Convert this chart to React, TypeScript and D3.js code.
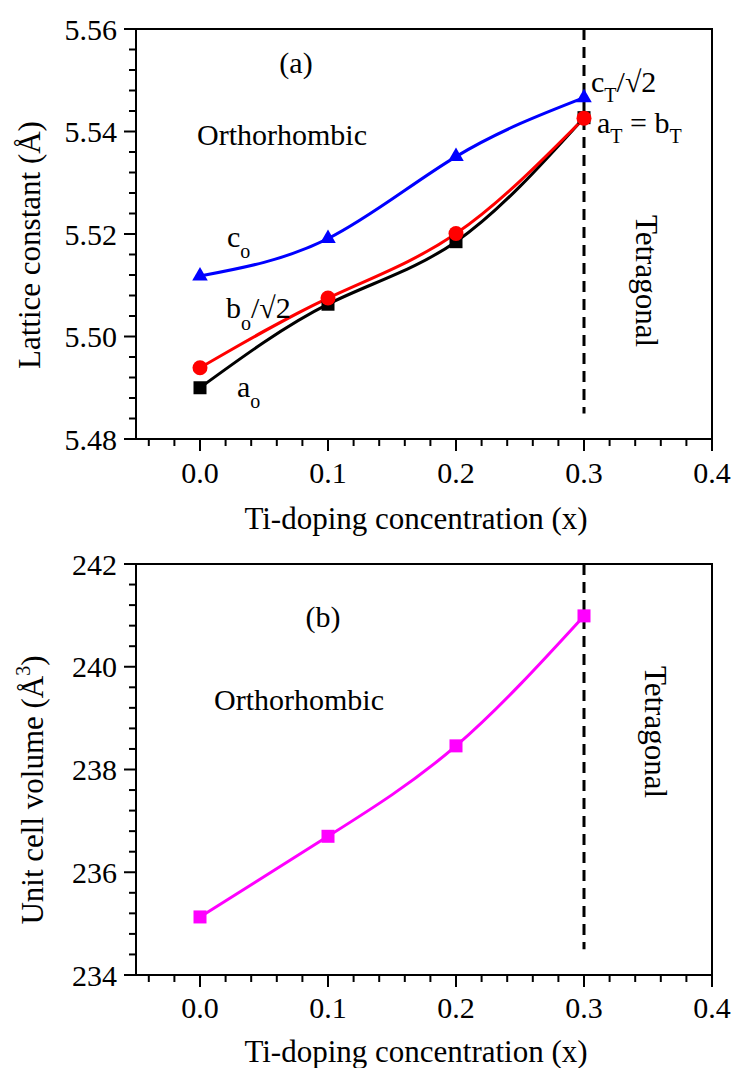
import React from "react";
import * as d3 from "d3";

const xValues = [0, 0.1, 0.2, 0.3];
const aO = [5.49, 5.5063, 5.5185, 5.5427];
const bO = [5.4939, 5.5075, 5.5201, 5.5426];
const cO = [5.5118, 5.5191, 5.5351, 5.5466];
const volume = [235.13, 236.7, 238.46, 240.99];

const xMajor = [0, 0.1, 0.2, 0.3, 0.4];
const xMinor = [-0.04, -0.02, 0.02, 0.04, 0.06, 0.08, 0.12, 0.14, 0.16, 0.18, 0.22, 0.24, 0.26, 0.28, 0.32, 0.34, 0.36, 0.38];
const yTopMajor = [5.48, 5.5, 5.52, 5.54, 5.56];
const yBotMajor = [234, 236, 238, 240, 242];

const FONT = "'Liberation Serif', 'Times New Roman', serif";
const L = 136, R = 712;

const x = d3.scaleLinear().domain([-0.05, 0.4]).range([L, R]);
const yTop = d3.scaleLinear().domain([5.48, 5.56]).range([439, 29]);
const yBot = d3.scaleLinear().domain([234, 242]).range([975, 564]);

function minorTicks(lo: number, hi: number, step: number, majors: number[]) {
  const out: number[] = [];
  const n = Math.round((hi - lo) / step);
  for (let i = 0; i <= n; i++) {
    const v = +(lo + i * step).toFixed(6);
    if (!majors.some((m) => Math.abs(m - v) < 1e-9)) out.push(v);
  }
  return out;
}

function Axes({ y, yMajor, yMinor, fmt, xLabelY, titleY }: any) {
  const [y0, y1] = y.range();
  return (
    <g>
      <rect x={L} y={y1} width={R - L} height={y0 - y1} fill="none" stroke="#000" strokeWidth={2} />
      {yMajor.map((v: number) => (
        <g key={"ym" + v}>
          <line x1={L - 12} x2={L} y1={y(v)} y2={y(v)} stroke="#000" strokeWidth={2} />
          <text x={117} y={y(v)} dy="0.35em" textAnchor="end" fontSize={30} fontFamily={FONT}>{fmt(v)}</text>
        </g>
      ))}
      {yMinor.map((v: number) => (
        <line key={"yn" + v} x1={L - 7} x2={L} y1={y(v)} y2={y(v)} stroke="#000" strokeWidth={2} />
      ))}
      {xMajor.map((v) => (
        <g key={"xm" + v}>
          <line x1={x(v)} x2={x(v)} y1={y0} y2={y0 + 12} stroke="#000" strokeWidth={2} />
          <text x={x(v)} y={xLabelY} textAnchor="middle" fontSize={30} fontFamily={FONT}>{v.toFixed(1)}</text>
        </g>
      ))}
      {xMinor.map((v) => (
        <line key={"xn" + v} x1={x(v)} x2={x(v)} y1={y0} y2={y0 + 7} stroke="#000" strokeWidth={2} />
      ))}
      <text x={(L + R) / 2 - 8} y={titleY} textAnchor="middle" fontSize={31} fontFamily={FONT}>Ti-doping concentration (x)</text>
    </g>
  );
}

export default function App() {
  const lineTop = (vals: number[]) =>
    d3.line<number>().x((_, i) => x(xValues[i])).y((d) => yTop(d)).curve(d3.curveNatural)(vals) as string;
  const lineBot = (vals: number[]) =>
    d3.line<number>().x((_, i) => x(xValues[i])).y((d) => yBot(d)).curve(d3.curveNatural)(vals) as string;
  const tri = d3.symbol(d3.symbolTriangle, 105)() as string;
  const sq = 13;

  return (
    <svg width={733} height={1068} style={{ position: "absolute", left: 0, top: 0, background: "#fff" }}>
      <rect x={0} y={0} width={733} height={1068} fill="#fff" />
      {/* Top panel */}
      <Axes y={yTop} yMajor={yTopMajor} yMinor={minorTicks(5.48, 5.56, 0.004, yTopMajor)} fmt={(v: number) => v.toFixed(2)} xLabelY={483} titleY={529} />
      <text transform="translate(40,245) rotate(-90)" textAnchor="middle" fontSize={31} fontFamily={FONT}>Lattice constant (Å)</text>
      <line x1={x(0.3)} x2={x(0.3)} y1={yTop(5.56)} y2={yTop(5.485)} stroke="#000" strokeWidth={3} strokeDasharray="11 7" />
      <path d={lineTop(aO)} fill="none" stroke="#000" strokeWidth={3} />
      <path d={lineTop(bO)} fill="none" stroke="#f00" strokeWidth={3} />
      <path d={lineTop(cO)} fill="none" stroke="#00f" strokeWidth={3} />
      {aO.map((v, i) => (
        <rect key={"a" + i} x={x(xValues[i]) - sq / 2} y={yTop(v) - sq / 2} width={sq} height={sq} fill="#000" />
      ))}
      {bO.map((v, i) => (
        <circle key={"b" + i} cx={x(xValues[i])} cy={yTop(v)} r={7.5} fill="#f00" />
      ))}
      {cO.map((v, i) => (
        <path key={"c" + i} d={tri} transform={`translate(${x(xValues[i])},${yTop(v)})`} fill="#00f" />
      ))}
      <g fontFamily={FONT} fontSize={30}>
        <text x={296} y={73} textAnchor="middle">(a)</text>
        <text x={197} y={145}>Orthorhombic</text>
        <text x={591} y={92}>c<tspan fontSize={20} dy={10}>T</tspan><tspan dy={-10}>/√2</tspan></text>
        <text x={597} y={133}>a<tspan fontSize={20} dy={10}>T</tspan><tspan dy={-10}> = b</tspan><tspan fontSize={20} dy={10}>T</tspan></text>
        <text x={227} y={247}>c<tspan fontSize={20} dy={11}>o</tspan></text>
        <text x={226} y={318}>b<tspan fontSize={20} dy={12}>o</tspan><tspan dy={-12}>/√2</tspan></text>
        <text x={237} y={397}>a<tspan fontSize={20} dy={11}>o</tspan></text>
        <text transform="translate(636,281) rotate(90)" textAnchor="middle" fontSize={31}>Tetragonal</text>
      </g>

      {/* Bottom panel */}
      <Axes y={yBot} yMajor={yBotMajor} yMinor={minorTicks(234, 242, 0.4, yBotMajor)} fmt={(v: number) => String(v)} xLabelY={1018} titleY={1062} />
      <text transform="translate(43,790) rotate(-90)" textAnchor="middle" fontSize={31} fontFamily={FONT}>
        Unit cell volume (Å<tspan fontSize={20} dy={-13}>3</tspan><tspan dy={13}>)</tspan>
      </text>
      <line x1={x(0.3)} x2={x(0.3)} y1={yBot(242)} y2={yBot(234.5)} stroke="#000" strokeWidth={3} strokeDasharray="11 7" />
      <path d={lineBot(volume)} fill="none" stroke="#f0f" strokeWidth={3} />
      {volume.map((v, i) => (
        <rect key={"v" + i} x={x(xValues[i]) - sq / 2} y={yBot(v) - sq / 2} width={sq} height={sq} fill="#f0f" />
      ))}
      <g fontFamily={FONT} fontSize={30}>
        <text x={323} y={627} textAnchor="middle">(b)</text>
        <text x={214} y={710}>Orthorhombic</text>
        <text transform="translate(645,732) rotate(90)" textAnchor="middle" fontSize={31}>Tetragonal</text>
      </g>
    </svg>
  );
}
